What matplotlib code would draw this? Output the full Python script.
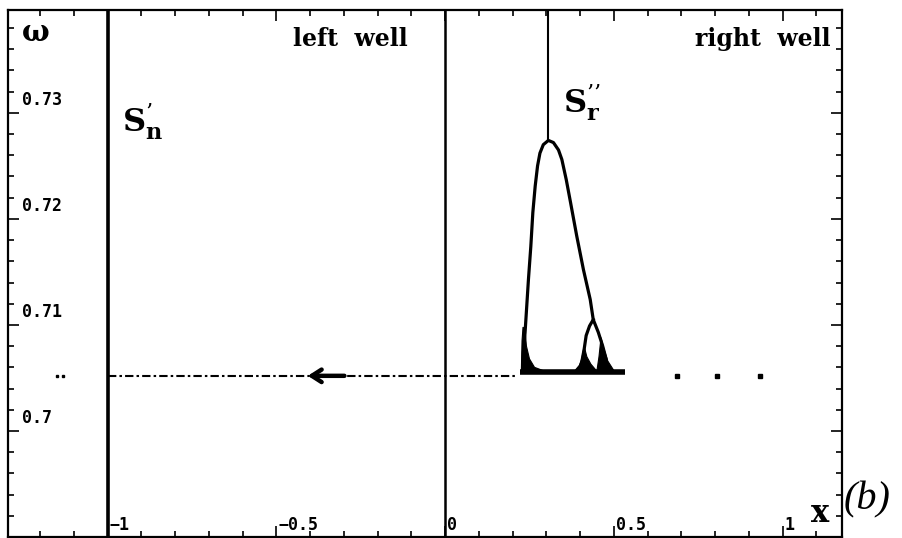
import matplotlib.pyplot as plt
from matplotlib.ticker import MultipleLocator

# --- data (x = displacement, w = omega) ---
x_ticks = [-1.0, -0.5, 0.0, 0.5, 1.0]
x_tick_labels = ["\u22121", "\u22120.5", "0", "0.5", "1"]
w_ticks = [0.70, 0.71, 0.72, 0.73]
w_tick_labels = ["0.7", "0.71", "0.72", "0.73"]

# vertical branches spanning the whole omega range
branch_x = [-1.0, 0.0]

# S''_r : vertical branch above the fold
sr_top_x = [0.306, 0.306]
sr_top_w = [0.7274, 0.74]
# left and right arms of the big bubble (peak first)
arm_left_x = [0.306, 0.291, 0.281, 0.274, 0.267, 0.260, 0.254, 0.247,
              0.242, 0.237, 0.232, 0.230]
arm_left_w = [0.7274, 0.7270, 0.7262, 0.7250, 0.7231, 0.7206, 0.7174, 0.7143,
              0.7118, 0.7093, 0.7074, 0.7058]
arm_right_x = [0.306, 0.321, 0.336, 0.346, 0.359, 0.372, 0.390, 0.410,
               0.430, 0.439, 0.454, 0.467, 0.477, 0.481]
arm_right_w = [0.7274, 0.7272, 0.7265, 0.7256, 0.7237, 0.7215, 0.7184, 0.7152,
               0.7124, 0.7105, 0.7093, 0.7080, 0.7068, 0.7058]
# secondary bubble branching off the right arm
bubble_x = [0.439, 0.428, 0.418, 0.412, 0.405, 0.398]
bubble_w = [0.7105, 0.7099, 0.7090, 0.7077, 0.7065, 0.7058]

# chaotic (dark) regions at the feet of the bubble
foot_left_x = [0.231, 0.237, 0.241, 0.250, 0.265, 0.290, 0.226, 0.228]
foot_left_w = [0.7098, 0.7095, 0.7080, 0.7068, 0.7060, 0.7057, 0.7057, 0.7085]
foot_mid_x = [0.412, 0.420, 0.432, 0.448, 0.385, 0.398, 0.405]
foot_mid_w = [0.7080, 0.7070, 0.7063, 0.7057, 0.7057, 0.7062, 0.7068]
foot_right_x = [0.462, 0.470, 0.482, 0.500, 0.450, 0.456]
foot_right_w = [0.7088, 0.7078, 0.7066, 0.7057, 0.7057, 0.7070]

# base of the chaotic band
bar_x = [0.222, 0.533]
bar_w = [0.7056, 0.7056]

# dash-dot transition line and the isolated dots
jump_x = [-1.0, 0.207]
jump_w = [0.7052, 0.7052]
dots_left_x = [-1.150, -1.132]
dots_right_x = [0.687, 0.806, 0.933]
dots_w = 0.7052
arrow_x = [-0.29, -0.415]

plt.rcParams["mathtext.fontset"] = "dejavuserif"

fig = plt.figure(figsize=(9.03, 5.38), dpi=100)
ax = fig.add_axes([8 / 903, 1 / 538, 834 / 903, 527 / 538])
ax.set_xlim(-1.295, 1.176)
ax.set_ylim(0.69, 0.7397)

for bx in branch_x:
    ax.axvline(bx, color="black", lw=2.6 if bx < 0 else 1.8)

ax.plot(sr_top_x, sr_top_w, color="black", lw=1.5)
ax.plot(arm_left_x[::-1] + arm_right_x, arm_left_w[::-1] + arm_right_w,
        color="black", lw=2.3, solid_joinstyle="round")
ax.plot(bubble_x, bubble_w, color="black", lw=2.3, solid_joinstyle="round")
for fx, fw in [(foot_left_x, foot_left_w), (foot_mid_x, foot_mid_w),
               (foot_right_x, foot_right_w)]:
    ax.fill(fx, fw, color="black", lw=0.8)
ax.plot(bar_x, bar_w, color="black", lw=4, solid_capstyle="butt")

ax.plot(jump_x, jump_w, color="black", lw=1.5, ls=(0, (4, 1.5, 1.2, 1.5)))
ax.plot(dots_left_x, [dots_w] * len(dots_left_x), "s", color="black", ms=2)
ax.plot(dots_right_x, [dots_w] * len(dots_right_x), "s", color="black", ms=2.5)
ax.annotate("", xy=(arrow_x[1], dots_w), xytext=(arrow_x[0], dots_w),
            arrowprops=dict(arrowstyle="->,head_length=0.7,head_width=0.45",
                            color="black", lw=3.2))

# frame and ticks (inside, on all four sides)
for sp in ax.spines.values():
    sp.set_linewidth(1.6)
ax.set_xticks(x_ticks)
ax.set_yticks(w_ticks)
ax.xaxis.set_minor_locator(MultipleLocator(0.1))
ax.yaxis.set_minor_locator(MultipleLocator(0.002))
ax.tick_params(which="both", direction="in", top=True, right=True,
               labelbottom=False, labelleft=False, width=1.2)
ax.tick_params(which="major", length=8)
ax.tick_params(which="minor", length=4)

mono = dict(family="DejaVu Sans Mono", weight="bold", fontsize=12)
for v, lab in zip(w_ticks, w_tick_labels):
    ax.annotate(lab, xy=(0, v), xycoords=("axes fraction", "data"),
                xytext=(10, 3), textcoords="offset points",
                ha="left", va="bottom", **mono)
for v, lab in zip(x_ticks, x_tick_labels):
    ax.annotate(lab, xy=(v, 0), xycoords=("data", "axes fraction"),
                xytext=(1.5, 2), textcoords="offset points",
                ha="left", va="bottom", **mono)

serif = dict(family="DejaVu Serif", weight="bold")
ax.text(-1.212, 0.7376, "\u03c9", fontsize=21, ha="center", va="center", **serif)
ax.text(-0.11, 0.7363, "left  well", fontsize=17, ha="right", va="baseline", **serif)
ax.text(1.141, 0.7363, "right  well", fontsize=17, ha="right", va="baseline", **serif)
ax.text(-0.957, 0.7282, "$\\mathbf{S}^{\\mathbf{\u2019}}_{\\mathbf{n}}$",
        fontsize=23, ha="left", va="baseline")
ax.text(0.350, 0.7300, "$\\mathbf{S}^{\\mathbf{\u2019\u2019}}_{\\mathbf{r}}$",
        fontsize=23, ha="left", va="baseline")
ax.text(1.111, 0.6922, "x", fontsize=22, ha="center", va="center", **serif)
fig.text(867 / 903, 1 - 500 / 538, "(b)", fontsize=29, style="italic",
         family="Liberation Serif", ha="center", va="center")

fig.savefig("out.png", dpi=100)
